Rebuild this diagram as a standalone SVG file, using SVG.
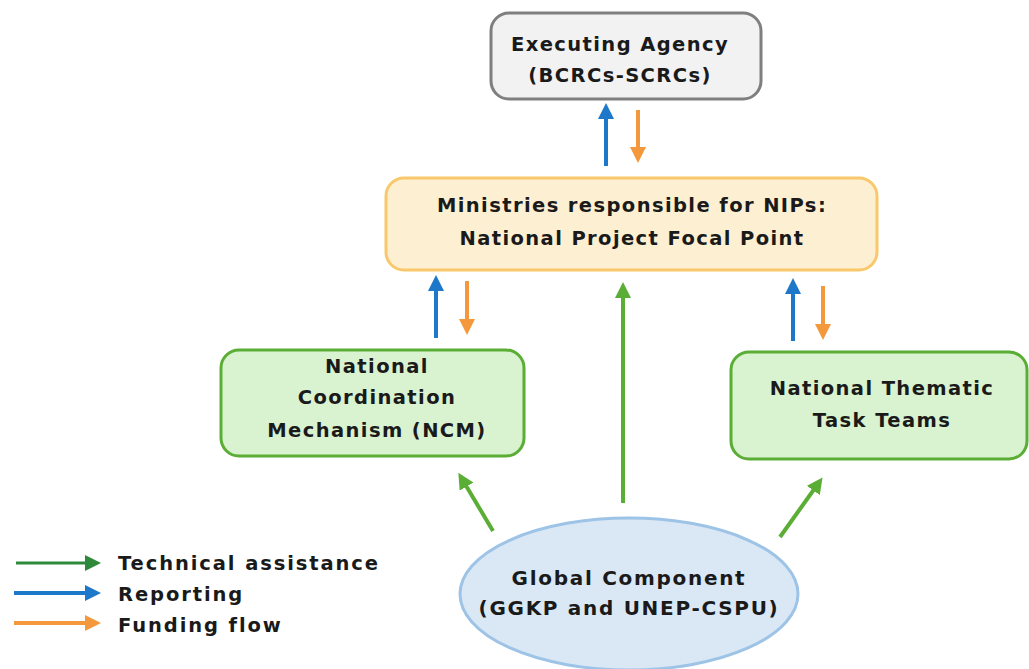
<svg xmlns="http://www.w3.org/2000/svg" width="1029" height="669" viewBox="0 0 1029 669">
<defs>
<style>
.t{font-family:"DejaVu Sans","Open Sans",sans-serif;font-weight:700;font-size:19.5px;letter-spacing:1.4px;fill:#1a1a1a;text-anchor:middle}
.e{font-size:20px;letter-spacing:1.7px}
.lg{font-family:"DejaVu Sans","Open Sans",sans-serif;font-weight:700;font-size:19.5px;letter-spacing:1.9px;fill:#1a1a1a}
.ln{fill:none;stroke-width:4}
.g{stroke:#5aad35}.b{stroke:#1d78c9}.o{stroke:#f4983d}.dg{stroke:#2e8a3a;stroke-width:3}
</style>
<marker id="ag" markerUnits="userSpaceOnUse" viewBox="0 0 16 16" markerWidth="16" markerHeight="16" refX="3" refY="8" orient="auto"><path d="M0,0 L16,8 L0,16 z" fill="#5aad35"/></marker>
<marker id="ab" markerUnits="userSpaceOnUse" viewBox="0 0 16 16" markerWidth="16" markerHeight="16" refX="3" refY="8" orient="auto"><path d="M0,0 L16,8 L0,16 z" fill="#1d78c9"/></marker>
<marker id="ao" markerUnits="userSpaceOnUse" viewBox="0 0 16 16" markerWidth="16" markerHeight="16" refX="3" refY="8" orient="auto"><path d="M0,0 L16,8 L0,16 z" fill="#f4983d"/></marker>
<marker id="adg" markerUnits="userSpaceOnUse" viewBox="0 0 16 16" markerWidth="16" markerHeight="16" refX="3" refY="8" orient="auto"><path d="M0,0 L16,8 L0,16 z" fill="#2e8a3a"/></marker>
</defs>
<rect width="1029" height="669" fill="#ffffff"/>
<g id="executing-agency">
<rect x="491" y="13" width="270" height="86" rx="18" fill="#f2f2f2" stroke="#7f7f7f" stroke-width="3"/>
<text class="t" x="620" y="51">Executing Agency</text>
<text class="t" x="620" y="82">(BCRCs-SCRCs)</text>
</g>
<g id="ministries">
<rect x="386" y="178" width="491" height="92" rx="18" fill="#fdf0d2" stroke="#f9c86a" stroke-width="3"/>
<text class="t" x="632" y="212">Ministries responsible for NIPs:</text>
<text class="t" x="632" y="245">National Project Focal Point</text>
</g>
<g id="ncm">
<rect x="221" y="350" width="303" height="106" rx="18" fill="#d9f2d0" stroke="#5aad35" stroke-width="3"/>
<text class="t" x="377" y="373">National</text>
<text class="t" x="377" y="404">Coordination</text>
<text class="t" x="377" y="437">Mechanism (NCM)</text>
</g>
<g id="thematic">
<rect x="731" y="352" width="296" height="107" rx="18" fill="#d9f2d0" stroke="#5aad35" stroke-width="3"/>
<text class="t" x="882" y="395">National Thematic</text>
<text class="t" x="882" y="427">Task Teams</text>
</g>
<g id="global">
<ellipse cx="629" cy="594" rx="169" ry="76" fill="#dae8f6" stroke="#9dc3e6" stroke-width="3"/>
<text class="t e" x="629" y="585">Global Component</text>
<text class="t e" x="629" y="615">(GGKP and UNEP-CSPU)</text>
</g>
<g id="connectors">
<line class="ln b" x1="606" y1="166" x2="606" y2="116" marker-end="url(#ab)"/>
<line class="ln o" x1="638" y1="110" x2="638" y2="150" marker-end="url(#ao)"/>
<line class="ln b" x1="436" y1="338" x2="436" y2="288" marker-end="url(#ab)"/>
<line class="ln o" x1="467" y1="281" x2="467" y2="322" marker-end="url(#ao)"/>
<line class="ln g" x1="623" y1="503" x2="623" y2="295" marker-end="url(#ag)"/>
<line class="ln b" x1="793" y1="341" x2="793" y2="291" marker-end="url(#ab)"/>
<line class="ln o" x1="823" y1="286" x2="823" y2="327" marker-end="url(#ao)"/>
<line class="ln g" x1="493" y1="531" x2="465" y2="484" marker-end="url(#ag)"/>
<line class="ln g" x1="780" y1="537" x2="815" y2="488" marker-end="url(#ag)"/>
</g>
<g id="legend">
<line class="ln dg" x1="16" y1="563" x2="88" y2="563" marker-end="url(#adg)"/>
<line class="ln b" x1="14" y1="593" x2="88" y2="593" marker-end="url(#ab)"/>
<line class="ln o" x1="14" y1="623" x2="88" y2="623" marker-end="url(#ao)"/>
<text class="lg" x="118" y="570">Technical assistance</text>
<text class="lg" x="118" y="601">Reporting</text>
<text class="lg" x="118" y="632">Funding flow</text>
</g>
</svg>
